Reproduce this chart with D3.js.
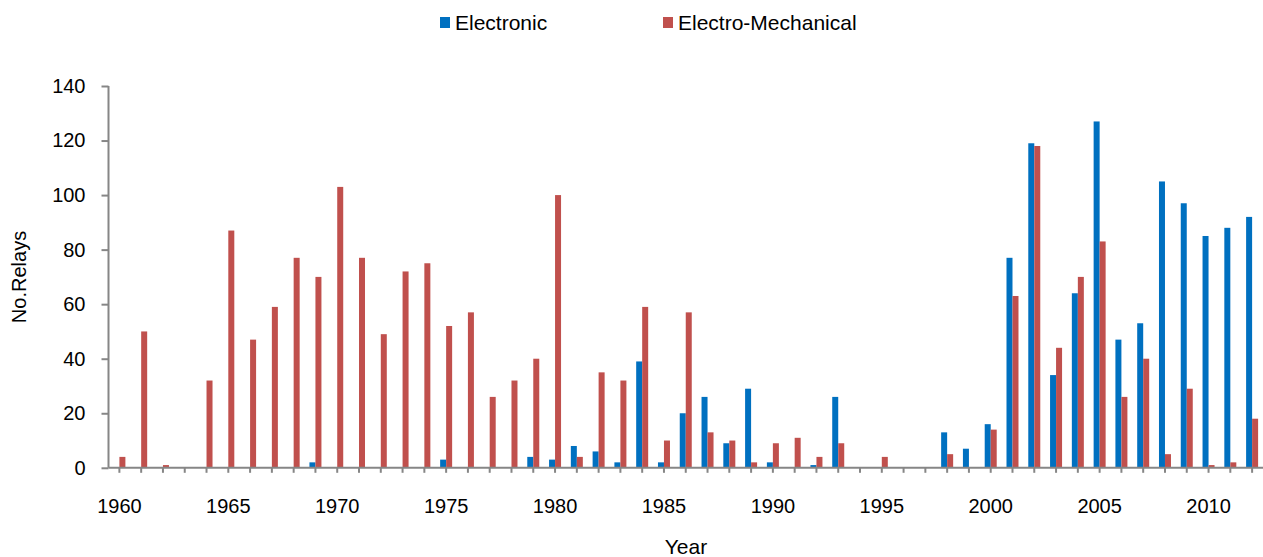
<!DOCTYPE html>
<html>
<head>
<meta charset="utf-8">
<script src="https://cdn.jsdelivr.net/npm/d3@7"></script>
<style>
  body { margin: 0; background: #fff; }
  svg { display: block; font-family: "Liberation Sans", Arial, sans-serif; }
</style>
</head>
<body>
<svg width="1263" height="557"></svg>
<script>
var years = d3.range(1960, 2013);

var electronic = [
    0, 0, 0, 0, 0, 0, 0, 0, 0, 2,
    0, 0, 0, 0, 0, 3, 0, 0, 0, 4,
    3, 8, 6, 2, 39, 2, 20, 26, 9, 29,
    2, 0, 1, 26, 0, 0, 0, 0, 13, 7,
    16, 77, 119, 34, 64, 127, 47, 53, 105, 97,
    85, 88, 92];

var electroMechanical = [
    4, 50, 1, 0, 32, 87, 47, 59, 77, 70,
    103, 77, 49, 72, 75, 52, 57, 26, 32, 40,
    100, 4, 35, 32, 59, 10, 57, 13, 10, 2,
    9, 11, 4, 9, 0, 4, 0, 0, 5, 0,
    14, 63, 118, 44, 70, 83, 26, 40, 5, 29,
    1, 2, 18];

var yTicks = [0, 20, 40, 60, 80, 100, 120, 140];
var xLabels = [1960, 1965, 1970, 1975, 1980, 1985, 1990, 1995, 2000, 2005, 2010];

var seriesNames = ["Electronic", "Electro-Mechanical"];
var colors = ["#0070C0", "#C0504D"];
var axisColor = "#868686";

var rows = years.map(function(y, i) {
    return {year: y, values: [electronic[i], electroMechanical[i]]};
});

var svg = d3.select("svg");

// plot edges (note: "top" is a reserved window global, so use other names)
var plotLeft = 108.5, plotRight = 1263, plotTop = 86, plotBottom = 467.8;

var x = d3.scaleBand().domain(years).range([plotLeft, plotRight]).padding(0);
var sub = d3.scaleBand().domain([0, 1])
    .range([x.bandwidth() / 2 - 6, x.bandwidth() / 2 + 6]);
var y = d3.scaleLinear().domain([0, 140]).range([plotBottom, plotTop]);

// bars
var groups = svg.append("g").selectAll("g")
    .data(rows)
    .join("g")
    .attr("transform", function(d) { return "translate(" + x(d.year) + ",0)"; });

groups.selectAll("rect")
    .data(function(d) { return d.values; })
    .join("rect")
    .attr("x", function(d, i) { return sub(i); })
    .attr("width", sub.bandwidth())
    .attr("y", function(d) { return y(d); })
    .attr("height", function(d) { return plotBottom - y(d); })
    .attr("fill", function(d, i) { return colors[i]; });

// y axis
var yAxis = svg.append("g")
    .attr("transform", "translate(" + plotLeft + ",0)")
    .call(d3.axisLeft(y).tickValues(yTicks).tickSize(7).tickPadding(16));

// x axis, ticks on category centres
var xAxis = svg.append("g")
    .attr("transform", "translate(0," + plotBottom + ")")
    .call(d3.axisBottom(x)
        .tickSize(5)
        .tickPadding(26)
        .tickFormat(function(d) { return xLabels.indexOf(d) >= 0 ? d : ""; }));

xAxis.select(".domain").attr("d", "M" + plotLeft + ",0H" + plotRight);
yAxis.select(".domain").attr("d", "M0," + plotBottom + "V" + plotTop);

[xAxis, yAxis].forEach(function(a) {
    a.selectAll(".domain, line").attr("stroke", axisColor).attr("stroke-width", 2);
    a.selectAll("text")
        .attr("fill", "#000")
        .style("font-size", "20px")
        .style("font-family", "'Liberation Sans', Arial, sans-serif");
});

// axis titles
svg.append("text")
    .attr("x", 686)
    .attr("y", 554)
    .attr("text-anchor", "middle")
    .style("font-size", "21px")
    .text("Year");

svg.append("text")
    .attr("transform", "translate(26,277) rotate(-90)")
    .attr("text-anchor", "middle")
    .style("font-size", "20px")
    .text("No.Relays");

// legend
var legendX = [440, 663];
var legend = svg.append("g").selectAll("g")
    .data(seriesNames)
    .join("g")
    .attr("transform", function(d, i) { return "translate(" + legendX[i] + ",0)"; });

legend.append("rect")
    .attr("x", 0)
    .attr("y", 17)
    .attr("width", 10)
    .attr("height", 11)
    .attr("fill", function(d, i) { return colors[i]; });

legend.append("text")
    .attr("x", 15)
    .attr("y", 30)
    .style("font-size", "21px")
    .text(function(d) { return d; });
</script>
</body>
</html>
